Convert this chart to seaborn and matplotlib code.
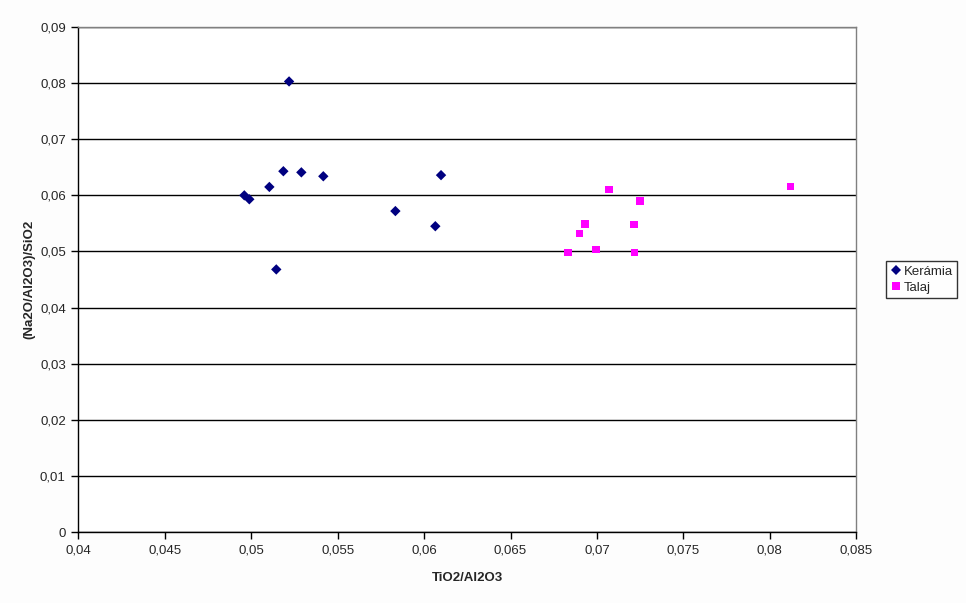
import matplotlib
matplotlib.use("Agg")
import matplotlib.pyplot as plt
import seaborn as sns
import pandas as pd
from matplotlib.ticker import FuncFormatter, MultipleLocator

keramia_x = [0.05219, 0.05186, 0.0529, 0.05417, 0.05105, 0.0496, 0.04989, 0.06098, 0.05834, 0.06065, 0.05145]
keramia_y = [0.0803, 0.0643, 0.0641, 0.0634, 0.0615, 0.0600, 0.0593, 0.0636, 0.0572, 0.0545, 0.0468]
talaj_x = [0.07070, 0.08118, 0.07249, 0.06931, 0.07214, 0.06898, 0.06994, 0.06832, 0.07216]
talaj_y = [0.0611, 0.0616, 0.0590, 0.0549, 0.0548, 0.0532, 0.0504, 0.0498, 0.0498]
series = ["Kerámia", "Talaj"]

df = pd.DataFrame({
    "x": keramia_x + talaj_x,
    "y": keramia_y + talaj_y,
    "s": [series[0]] * len(keramia_x) + [series[1]] * len(talaj_x),
})

sns.set_style("white")
plt.rcParams['font.family'] = ['Liberation Sans', 'DejaVu Sans']

fig = plt.figure(figsize=(9.66, 6.03), dpi=100)
fig.patch.set_facecolor("#fdfdfd")
ax = fig.add_axes([0.0811, 0.1177, 0.8053, 0.8375])
ax.set_facecolor("white")

sns.scatterplot(data=df, x="x", y="y", hue="s", style="s",
                hue_order=series, style_order=series,
                palette={"Kerámia": "#000080", "Talaj": "#FF00FF"},
                markers={"Kerámia": "D", "Talaj": "s"},
                s=28, linewidth=0, ax=ax, legend=True, zorder=3)

ax.set_xlim(0.04, 0.085)
ax.set_ylim(0, 0.09)
ax.xaxis.set_major_locator(MultipleLocator(0.005))
ax.yaxis.set_major_locator(MultipleLocator(0.01))
fmt = FuncFormatter(lambda v, p: ("%g" % round(v, 4)).replace(".", ","))
ax.xaxis.set_major_formatter(fmt)
ax.yaxis.set_major_formatter(fmt)
ax.yaxis.grid(True, color="black", linewidth=1.0)
ax.set_axisbelow(True)
for side in ["top", "right"]:
    ax.spines[side].set_color("#808080")
    ax.spines[side].set_linewidth(1.0)
for side in ["left", "bottom"]:
    ax.spines[side].set_color("black")
    ax.spines[side].set_linewidth(1.0)
ax.tick_params(axis="both", direction="out", length=5, width=1, color="black",
               labelsize=9.5, pad=4, bottom=True, left=True)
ax.set_xlabel("TiO2/Al2O3", fontsize=9.5, fontweight="bold", labelpad=11)
ax.set_ylabel("(Na2O/Al2O3)/SiO2", fontsize=9.5, fontweight="bold", labelpad=3)

handles, labels = ax.get_legend_handles_labels()
leg = fig.legend(handles, labels, loc="upper left", bbox_to_anchor=(885.7 / 966, 1 - 260.7 / 603),
                 fontsize=9.5, frameon=True, fancybox=False, edgecolor="black",
                 handletextpad=0.1, borderpad=0.35, labelspacing=0.3,
                 handlelength=0.9, borderaxespad=0)
leg.get_frame().set_linewidth(1.0)
ax.get_legend().remove()

fig.savefig("out.png", dpi=100, facecolor=fig.get_facecolor())
